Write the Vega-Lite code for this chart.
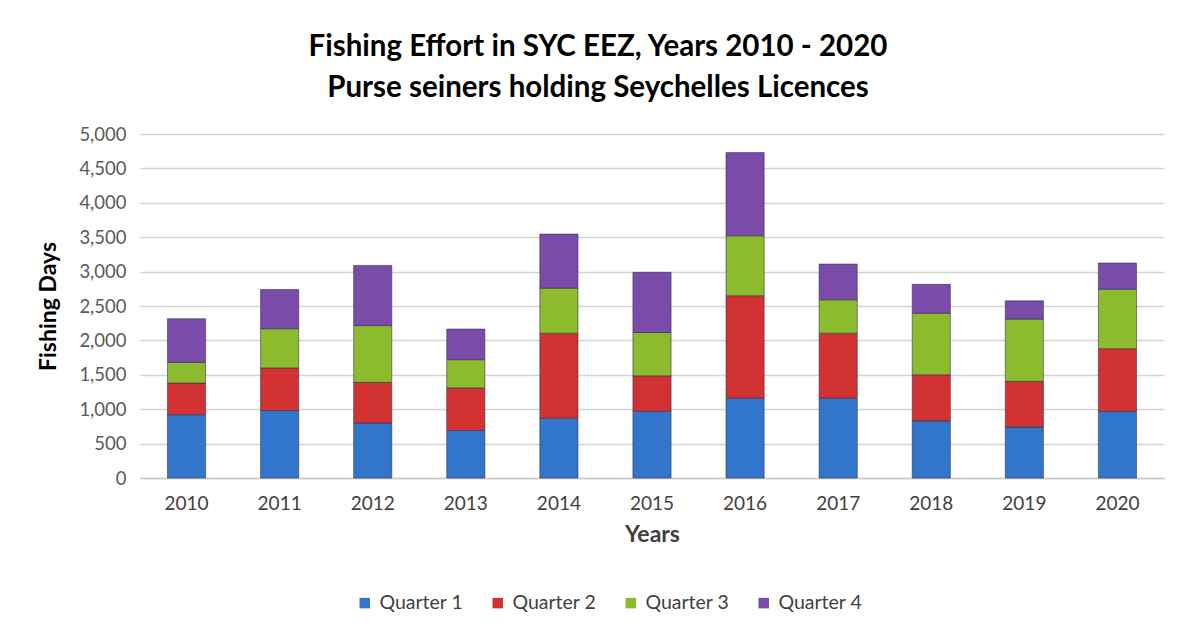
{
  "$schema": "https://vega.github.io/schema/vega-lite/v6.json",
  "autosize": "none",
  "width": 1024,
  "height": 344,
  "padding": {"left": 140, "top": 134, "right": 30, "bottom": 154},
  "background": "white",
  "title": {
    "text": ["Fishing Effort in SYC EEZ, Years 2010 - 2020", "Purse seiners holding Seychelles Licences"],
    "font": "Lato",
    "fontSize": 29.5,
    "fontWeight": "bold",
    "color": "#000000",
    "anchor": "middle",
    "dx": -54,
    "offset": 22,
    "lineHeight": 41
  },
  "data": {
    "values": [
      {"year": "2010", "quarter": "Quarter 1", "days": 920},
      {"year": "2010", "quarter": "Quarter 2", "days": 460},
      {"year": "2010", "quarter": "Quarter 3", "days": 300},
      {"year": "2010", "quarter": "Quarter 4", "days": 635},
      {"year": "2011", "quarter": "Quarter 1", "days": 980},
      {"year": "2011", "quarter": "Quarter 2", "days": 620},
      {"year": "2011", "quarter": "Quarter 3", "days": 570},
      {"year": "2011", "quarter": "Quarter 4", "days": 570},
      {"year": "2012", "quarter": "Quarter 1", "days": 800},
      {"year": "2012", "quarter": "Quarter 2", "days": 590},
      {"year": "2012", "quarter": "Quarter 3", "days": 825},
      {"year": "2012", "quarter": "Quarter 4", "days": 875},
      {"year": "2013", "quarter": "Quarter 1", "days": 690},
      {"year": "2013", "quarter": "Quarter 2", "days": 620},
      {"year": "2013", "quarter": "Quarter 3", "days": 410},
      {"year": "2013", "quarter": "Quarter 4", "days": 445},
      {"year": "2014", "quarter": "Quarter 1", "days": 870},
      {"year": "2014", "quarter": "Quarter 2", "days": 1235},
      {"year": "2014", "quarter": "Quarter 3", "days": 655},
      {"year": "2014", "quarter": "Quarter 4", "days": 785},
      {"year": "2015", "quarter": "Quarter 1", "days": 970},
      {"year": "2015", "quarter": "Quarter 2", "days": 515},
      {"year": "2015", "quarter": "Quarter 3", "days": 630},
      {"year": "2015", "quarter": "Quarter 4", "days": 875},
      {"year": "2016", "quarter": "Quarter 1", "days": 1160},
      {"year": "2016", "quarter": "Quarter 2", "days": 1490},
      {"year": "2016", "quarter": "Quarter 3", "days": 870},
      {"year": "2016", "quarter": "Quarter 4", "days": 1210},
      {"year": "2017", "quarter": "Quarter 1", "days": 1160},
      {"year": "2017", "quarter": "Quarter 2", "days": 945},
      {"year": "2017", "quarter": "Quarter 3", "days": 485},
      {"year": "2017", "quarter": "Quarter 4", "days": 520},
      {"year": "2018", "quarter": "Quarter 1", "days": 830},
      {"year": "2018", "quarter": "Quarter 2", "days": 670},
      {"year": "2018", "quarter": "Quarter 3", "days": 895},
      {"year": "2018", "quarter": "Quarter 4", "days": 420},
      {"year": "2019", "quarter": "Quarter 1", "days": 740},
      {"year": "2019", "quarter": "Quarter 2", "days": 665},
      {"year": "2019", "quarter": "Quarter 3", "days": 905},
      {"year": "2019", "quarter": "Quarter 4", "days": 265},
      {"year": "2020", "quarter": "Quarter 1", "days": 970},
      {"year": "2020", "quarter": "Quarter 2", "days": 910},
      {"year": "2020", "quarter": "Quarter 3", "days": 865},
      {"year": "2020", "quarter": "Quarter 4", "days": 380}
    ]
  },
  "mark": {"type": "bar", "stroke": "#2b2b50", "strokeWidth": 1, "strokeOpacity": 0.55},
  "encoding": {
    "x": {
      "field": "year",
      "type": "ordinal",
      "scale": {"paddingInner": 0.59, "paddingOuter": 0.295},
      "axis": {
        "title": "Years",
        "titleFont": "Lato",
        "titleFontSize": 23,
        "titleFontWeight": "bold",
        "titleColor": "#404040",
        "titlePadding": 10,
        "labelAngle": 0,
        "labelFont": "Lato",
        "labelFontSize": 19,
        "labelColor": "#404040",
        "labelPadding": 16,
        "ticks": false,
        "domainColor": "#c8c8c8",
        "domainWidth": 1.5
      }
    },
    "y": {
      "field": "days",
      "type": "quantitative",
      "aggregate": "sum",
      "stack": "zero",
      "scale": {"domain": [0, 5000]},
      "axis": {
        "title": "Fishing Days",
        "titleFont": "Lato",
        "titleFontSize": 23,
        "titleFontWeight": "bold",
        "titleColor": "#000000",
        "titlePadding": 18,
        "values": [0, 500, 1000, 1500, 2000, 2500, 3000, 3500, 4000, 4500, 5000],
        "format": ",d",
        "labelFont": "Lato",
        "labelFontSize": 18.5,
        "labelColor": "#595959",
        "labelPadding": 14,
        "ticks": false,
        "domain": false,
        "gridColor": "#d4d4d4",
        "gridWidth": 1.5
      }
    },
    "color": {
      "field": "quarter",
      "type": "nominal",
      "scale": {
        "domain": ["Quarter 1", "Quarter 2", "Quarter 3", "Quarter 4"],
        "range": ["#3276cc", "#d23232", "#8cbb2e", "#7a4ba8"]
      },
      "legend": {
        "title": null,
        "orient": "none",
        "direction": "horizontal",
        "legendX": 215,
        "legendY": 459,
        "symbolType": "square",
        "symbolSize": 110,
        "symbolStrokeWidth": 0,
        "labelFont": "Lato",
        "labelFontSize": 19.5,
        "labelColor": "#404040",
        "columnPadding": 24,
        "labelOffset": 5
      }
    },
    "order": {"field": "quarter", "sort": "ascending"}
  },
  "config": {"view": {"stroke": null}}
}
